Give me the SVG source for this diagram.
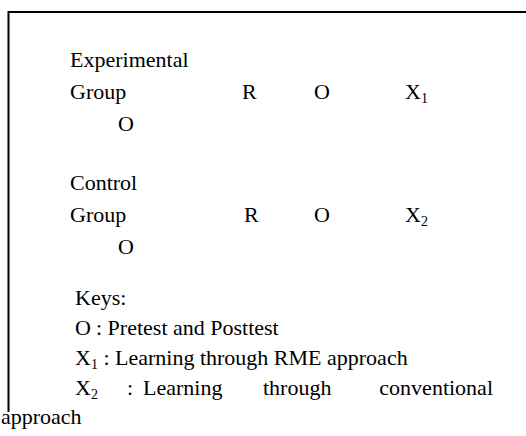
<svg xmlns="http://www.w3.org/2000/svg" width="526" height="436" viewBox="0 0 526 436">
<style>
text{font-family:"Liberation Serif","Times New Roman",serif;font-size:22px;fill:#000}
.sub{font-size:14px}
.frame{stroke:#000;stroke-width:2;fill:none}
</style>
<rect width="526" height="436" fill="#fff"/>
<path class="frame" d="M8.5,412 V12 H526"/>
<g id="experimental">
<text x="70" y="67">Experimental</text>
<text x="70" y="99">Group</text>
<text x="242" y="99">R</text>
<text x="314" y="99">O</text>
<text x="405" y="99">X<tspan class="sub" dy="4">1</tspan></text>
<text x="118" y="131">O</text>
</g>
<g id="control">
<text x="70" y="190">Control</text>
<text x="70" y="222">Group</text>
<text x="244" y="222">R</text>
<text x="314" y="222">O</text>
<text x="405" y="222">X<tspan class="sub" dy="4">2</tspan></text>
<text x="118" y="254">O</text>
</g>
<g id="keys">
<text x="75" y="305">Keys:</text>
<text x="75" y="335">O</text>
<text x="96" y="335">: Pretest and Posttest</text>
<text x="75" y="365">X<tspan class="sub" dy="4">1</tspan><tspan dy="-4"> : Learning through RME approach</tspan></text>
<text x="75" y="395">X<tspan class="sub" dy="4">2</tspan></text>
<text x="127" y="395">:</text>
<text x="143" y="395">Learning</text>
<text x="263" y="395">through</text>
<text x="493" y="395" text-anchor="end">conventional</text>
<text x="1" y="424">approach</text>
</g>
</svg>
